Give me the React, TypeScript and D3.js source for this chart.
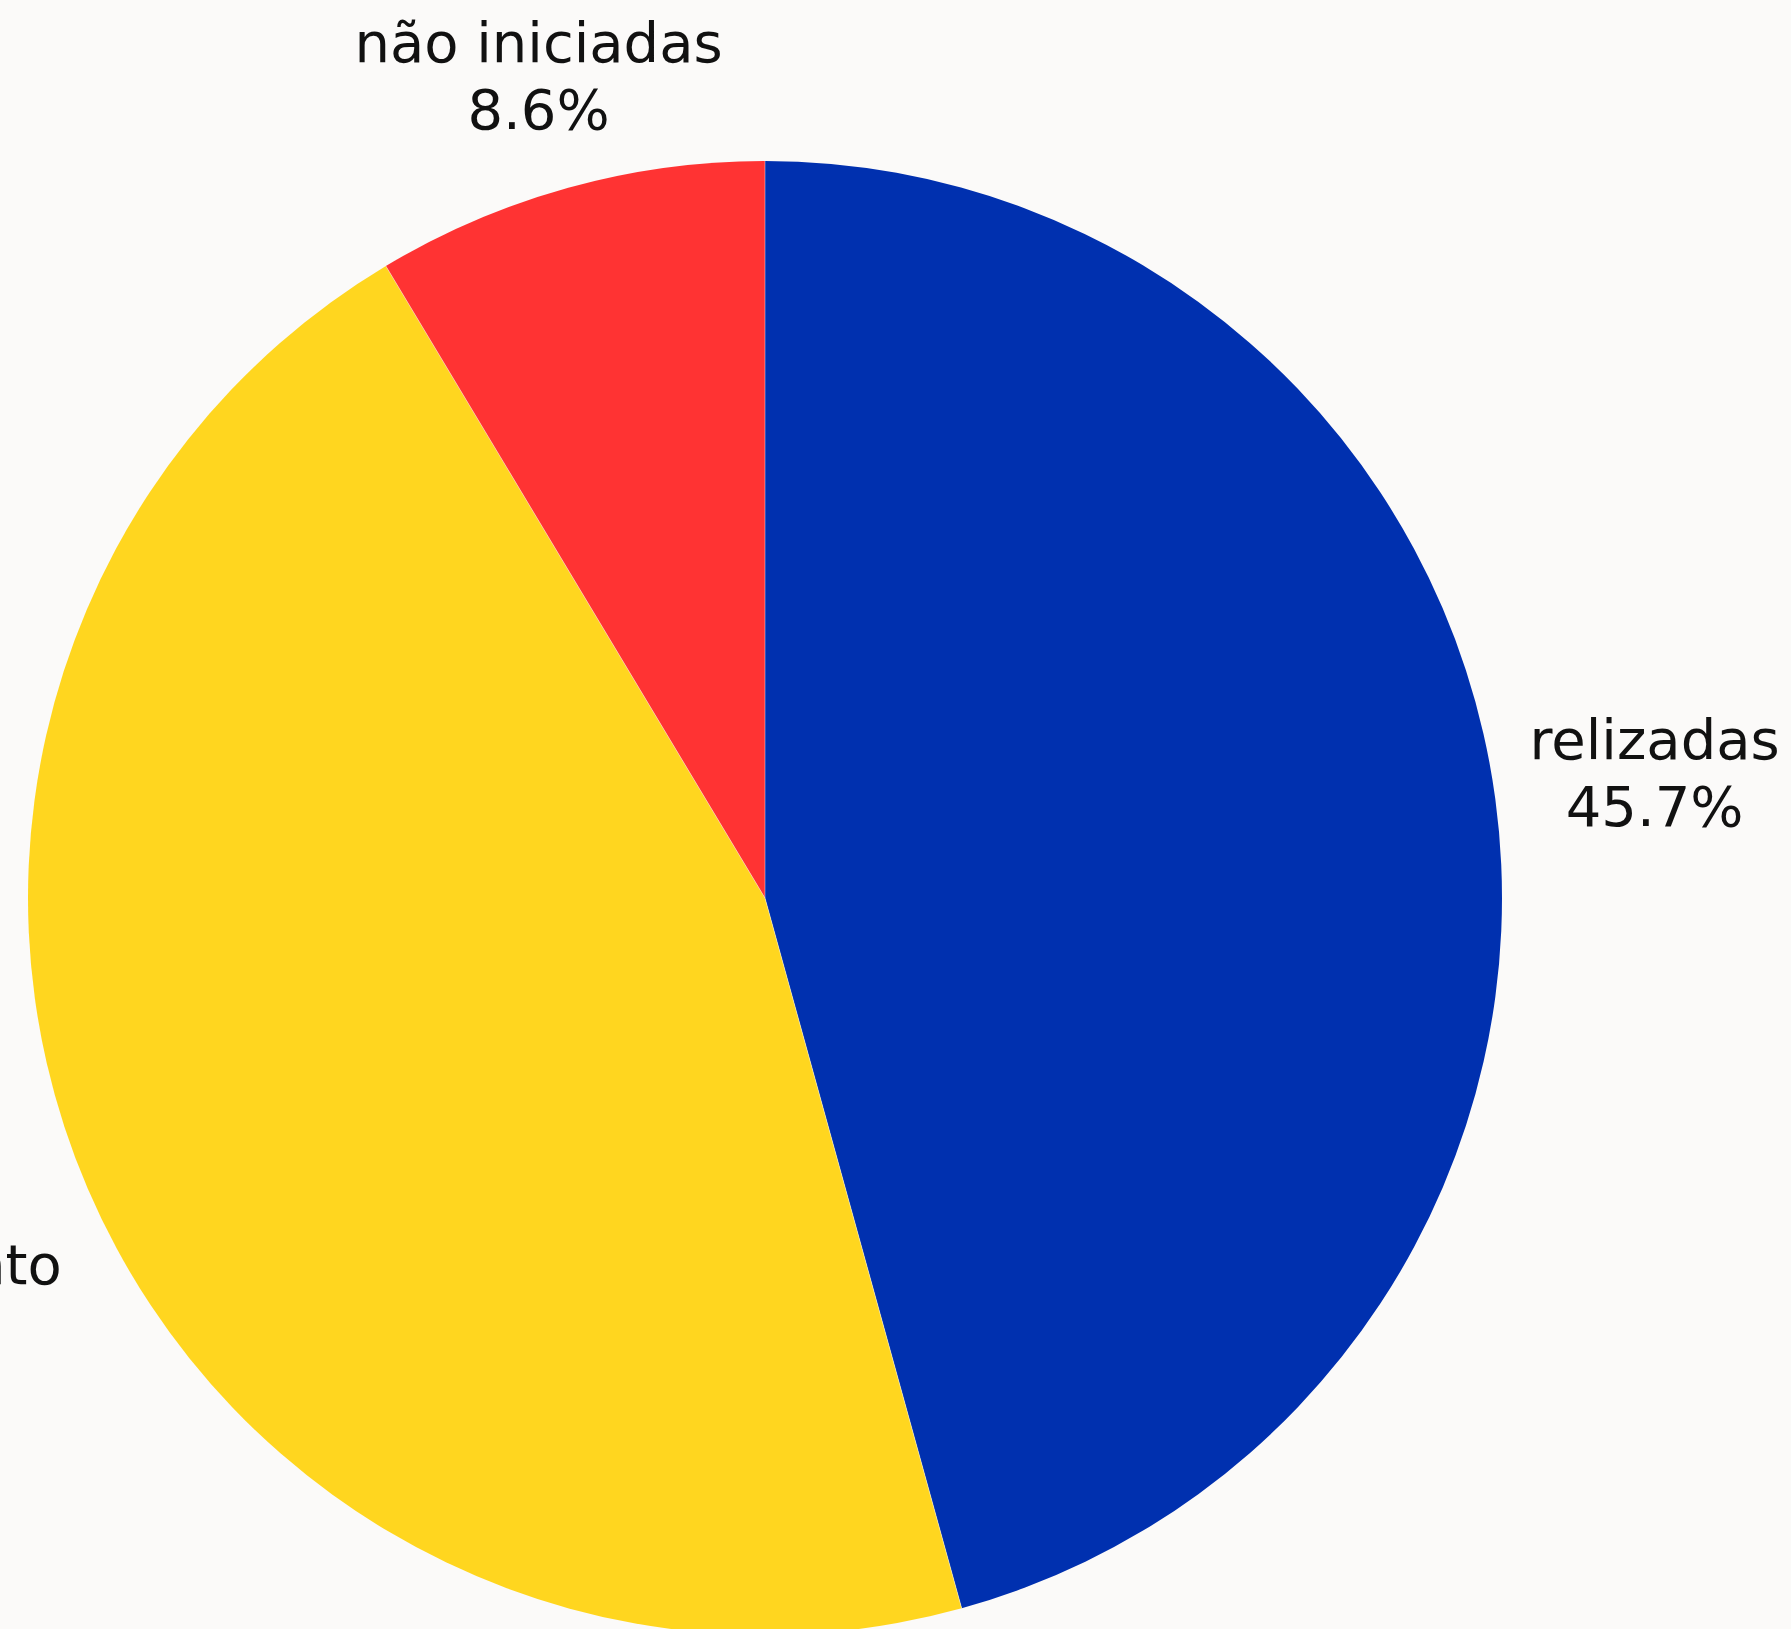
import React, { useEffect, useRef } from "react";
import * as d3 from "d3";

const W = 1791;
const H = 1629;

const categories = ["relizadas", "em andamento", "não iniciadas"];
const labelLines = [["relizadas"], ["em", "andamento"], ["não iniciadas"]];
const values = [45.7, 45.7, 8.6];
const percentLabels = ["45.7%", "45.7%", "8.6%"];
const colors = ["#0030AF", "#FFD61F", "#FF3333"];

export default function App() {
  const ref = useRef<SVGSVGElement | null>(null);

  useEffect(() => {
    const svg = d3.select(ref.current);
    svg.selectAll("*").remove();

    const cx = 765;
    const cy = 898;
    const r = 737;
    const fontSize = 56;
    const lineH = 67;
    const capH = 0.729 * fontSize;
    const gap = 51;
    const k = 0.87;

    svg.append("rect").attr("width", W).attr("height", H).attr("fill", "#FBFAF9");

    const data = categories.map((c, i) => ({ c, v: values[i], i }));
    const pie = d3.pie<any>().sort(null).value((d: any) => d.v).startAngle(0).endAngle(2 * Math.PI);
    const arcs = pie(data);
    const arc = d3.arc<any>().innerRadius(0).outerRadius(r);

    const g = svg.append("g").attr("transform", `translate(${cx},${cy})`);
    g.selectAll("path")
      .data(arcs)
      .join("path")
      .attr("d", arc as any)
      .attr("fill", (d: any) => colors[d.data.i])
      .attr("shape-rendering", "geometricPrecision");

    // thin separators between slices
    g.selectAll("line.sep")
      .data(arcs)
      .join("line")
      .attr("class", "sep")
      .attr("x1", 0)
      .attr("y1", 0)
      .attr("x2", (d: any) => Math.sin(d.startAngle) * r)
      .attr("y2", (d: any) => -Math.cos(d.startAngle) * r)
      .attr("stroke", "#ffffff")
      .attr("stroke-opacity", 0.6)
      .attr("stroke-width", 0.7);

    const lg = svg.append("g");
    arcs.forEach((a: any) => {
      const i = a.data.i;
      const lines = [...labelLines[i], percentLabels[i]];
      const text = lg
        .append("text")
        .attr("font-family", "'DejaVu Sans', sans-serif")
        .attr("font-size", fontSize)
        .attr("fill", "#111111")
        .attr("text-anchor", "middle");
      const tspans = lines.map((l) => text.append("tspan").attr("x", 0).attr("y", 0).text(l));
      const w = d3.max(tspans, (t) => (t.node() as SVGTSpanElement).getComputedTextLength()) || 0;
      const h = (lines.length - 1) * lineH + capH + 10;
      const hOuter = lines.length * lineH;
      const mid = (a.startAngle + a.endAngle) / 2;
      const s = Math.sin(mid);
      const c = Math.cos(mid);
      const ex = Math.abs(s) > 1e-6 ? w / 2 / Math.abs(s) : Infinity;
      const ey = Math.abs(c) > 1e-6 ? hOuter / 2 / Math.abs(c) : Infinity;
      const dist = r + gap + Math.min(ex, ey) * k;
      const bx = cx + s * dist;
      const by = cy - c * dist;
      const top = by - h / 2;
      tspans.forEach((t, j) => {
        t.attr("x", bx).attr("y", top + capH + j * lineH);
      });
    });
  }, []);

  return (
    <svg
      ref={ref}
      width={W}
      height={H}
      style={{ position: "absolute", left: 0, top: 0, display: "block" }}
    />
  );
}
